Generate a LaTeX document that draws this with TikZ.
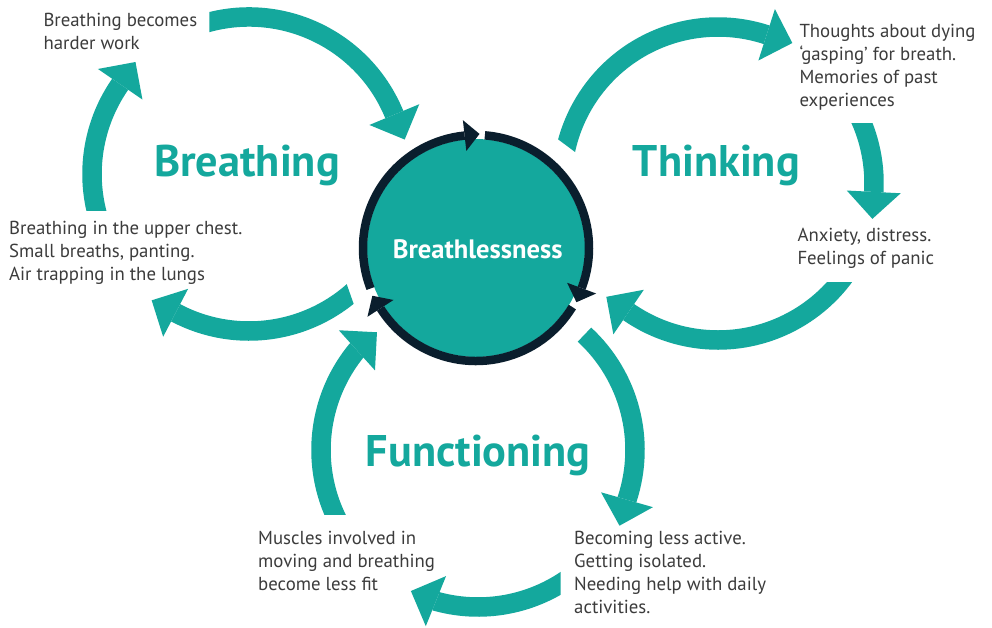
\documentclass[tikz,border=0pt]{standalone}
\usepackage{fontspec}
\setmainfont{PT Sans}
\usetikzlibrary{arrows.meta}
\definecolor{tealc}{HTML}{14A89D}
\definecolor{ringc}{HTML}{0A1E2D}
\definecolor{txtc}{HTML}{3C3C3C}
\tikzset{
  tarrow/.style={draw=tealc, line width=19.5pt, -{Triangle[length=27pt,width=54pt,line width=0pt]}},
  ringarc/.style={draw=ringc, line width=8.5pt, -{Triangle[length=15pt,width=31pt,line width=0pt]}},
  desc/.style={font=\fontsize{18.8}{22.9}\selectfont, text=txtc, align=left, inner sep=0pt, anchor=base west},
  cyclelabel/.style={font=\fontsize{44.3}{50}\selectfont\bfseries, text=tealc, inner sep=0pt, anchor=base west},
}
\begin{document}
\begin{tikzpicture}[x=1pt,y=-1pt]
\fill[white] (0,0) rectangle (992,627);
\useasboundingbox (0,0) rectangle (992,627);
\coordinate (cB) at (249,174);
\coordinate (cT) at (718,183);
\coordinate (cF) at (478,450);
\coordinate (cC) at (476,248);

% central circle
\fill[tealc] (cC) circle[radius=109];
\draw[ringarc] (cC) ++(274.5:113) arc[start angle=274.5, end angle=380.3, radius=113] -- ++(110.3:16);
\draw[ringarc] (cC) ++(31.5:113) arc[start angle=31.5, end angle=147.2, radius=113] -- ++(237.2:16);
\draw[ringarc] (cC) ++(159:113) arc[start angle=159, end angle=263.7, radius=113] -- ++(353.7:16);
\node[font=\fontsize{26.6}{30}\selectfont\bfseries, text=white, inner sep=0pt, anchor=base] (lC) at (477.7,258.3) {Breathlessness};

% Breathing cycle
\begin{scope}
\clip (209.3,-20) rectangle (1000,700);
\draw[tarrow] (cB) ++(-110:157) arc[start angle=-110, end angle=-22.6, radius=157] -- ++(67.4:28);
\end{scope}
\begin{scope}
\clip (-10,-10) rectangle (1000,210);
\draw[tarrow] (cB) ++(160:157) arc[start angle=160, end angle=214.5, radius=157] -- ++(304.5:28);
\end{scope}
\begin{scope}
\clip (317,199.5) -- (383,387.5) -- (0,387.5) -- (0,199.5) -- cycle;
\draw[tarrow] (cB) ++(42:157) arc[start angle=42, end angle=117.5, radius=157] -- ++(207.5:28);
\end{scope}

% Thinking cycle
\begin{scope}
\clip (390.7,14.3) -- (739.3,274.7) -- (1000,274.7) -- (1000,-10) -- (390.7,-10) -- cycle;
\draw[tarrow] (cT) ++(185:156) arc[start angle=185, end angle=287.8, radius=156] -- ++(17.8:28);
\end{scope}
\begin{scope}
\clip (-10,123.7) rectangle (1000,700);
\draw[tarrow] (cT) ++(-30:156) arc[start angle=-30, end angle=2.9, radius=156] -- ++(92.9:28);
\end{scope}
\begin{scope}
\clip (-10,282.7) rectangle (1000,700);
\draw[tarrow] (cT) ++(30:157) arc[start angle=30, end angle=124.35, radius=157] -- ++(214.35:28);
\end{scope}

% Functioning cycle
\draw[tarrow] (cF) ++(-47.3:157) arc[start angle=-47.3, end angle=18.1, radius=157] -- ++(106:28);
\begin{scope}
\clip (-10,-10) rectangle (560.7,700);
\draw[tarrow] (cF) ++(50:157) arc[start angle=50, end angle=105.2, radius=157] -- ++(202:28);
\end{scope}
\begin{scope}
\clip (-10,-10) rectangle (1000,514.5);
\draw[tarrow] (cF) ++(147:157) arc[start angle=147, end angle=219.1, radius=157] -- ++(318:28);
\end{scope}

% labels
\node[cyclelabel] (lB) at (154,176.7) {Breathing};
\node[cyclelabel] (lT) at (632.7,176.7) {Thinking};
\node[cyclelabel] (lF) at (365.7,466.7) {Functioning};

% descriptions (anchor = baseline of last line)
\node[desc] (t1) at (43.3,49) {Breathing becomes\\harder work};
\node[desc] (t2) at (9,280.7) {Breathing in the upper chest.\\Small breaths, panting.\\Air trapping in the lungs};
\node[desc] (t3) at (799.3,106) {Thoughts about dying\\`gasping' for breath.\\Memories of past\\experiences};
\node[desc] (t4) at (797.3,264) {Anxiety, distress.\\Feelings of panic};
\node[desc] (t5) at (258,590.7) {Muscles involved in\\moving and breathing\\become less fit};
\node[desc] (t6) at (574,613.3) {Becoming less active.\\Getting isolated.\\Needing help with daily\\activities.};
\end{tikzpicture}
\end{document}
